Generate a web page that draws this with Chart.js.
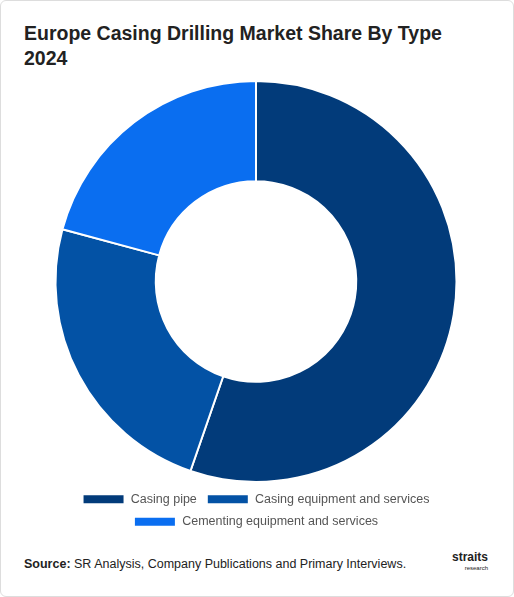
<!DOCTYPE html>
<html lang="en">
  <head>
    <meta charset="UTF-8" />
    <script src="https://cdn.jsdelivr.net/npm/chart.js@4"></script>
    <style>
      body { margin: 0; background: #fff; font-family: "Liberation Sans", sans-serif; }
      .card { position: absolute; left: 0; top: 0; width: 512px; height: 595px; border: 1px solid #ddd; border-radius: 6px; }
      h1 { position: absolute; left: 24px; top: 21px; margin: 0; font-size: 19.5px; line-height: 25px; font-weight: 700; color: #222; width: 430px; }
      #wrap { position: absolute; left: 0; top: 80px; width: 512px; height: 458px; }
      .src { position: absolute; left: 24px; top: 557px; font-size: 12.5px; color: #222; }
      .logo { position: absolute; right: 26px; top: 552px; font-size: 12px; font-weight: 700; color: #222; line-height: 11px; }
      .logo small { display: block; font-size: 6px; font-weight: 400; text-align: right; }
    </style>
  </head>
  <body>
    <div class="card"></div>
    <h1>Europe Casing Drilling Market Share By Type 2024</h1>
    <div id="wrap"><canvas id="chart"></canvas></div>
    <div class="src"><b>Source:</b> SR Analysis, Company Publications and Primary Interviews.</div>
    <div class="logo">straits<small>research</small></div>
    <script>
      const labels = ['Casing pipe', 'Casing equipment and services', 'Cementing equipment and services']
      const values = [55.3, 23.9, 20.8]
      const colors = ['#023b7a', '#0352a5', '#0a6ef0']

      new Chart(document.getElementById('chart'), {
        type: 'doughnut',
        data: {
          labels: labels,
          datasets: [{ data: values, backgroundColor: colors, borderColor: '#fff', borderWidth: 2 }],
        },
        options: {
          responsive: true,
          maintainAspectRatio: false,
          animation: false,
          cutout: '50%',
          layout: { padding: 0 },
          plugins: {
            legend: {
              position: 'bottom',
              labels: { boxWidth: 42, boxHeight: 10, padding: 10, color: '#555', font: { size: 12.5, family: 'Liberation Sans, sans-serif' } },
            },
            tooltip: { enabled: false },
          },
        },
      })
    </script>
  </body>
</html>
